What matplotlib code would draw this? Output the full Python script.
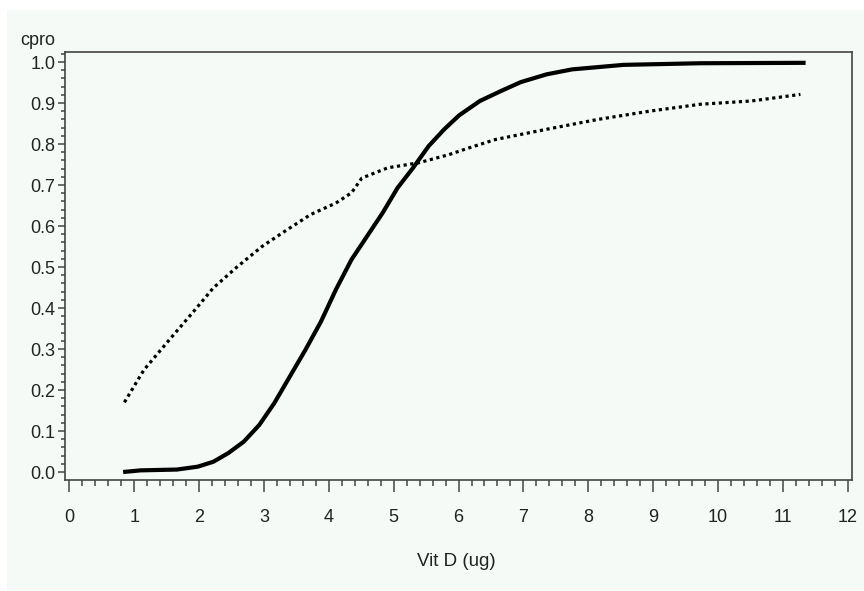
import numpy as np
import matplotlib
matplotlib.use('Agg')
import matplotlib.pyplot as plt
from matplotlib.patches import Rectangle
from matplotlib.ticker import MultipleLocator, FormatStrFormatter

# solid curve (fitted cdf)
fit_x = [0.83, 1.10, 1.66, 1.98, 2.22, 2.45, 2.69, 2.93, 3.16, 3.40, 3.64, 3.88,
         4.11, 4.35, 4.59, 4.83, 5.06, 5.30, 5.54, 5.78, 6.01, 6.33, 6.65, 6.96,
         7.36, 7.75, 8.54, 9.73, 11.35]
fit_y = [0.000, 0.004, 0.006, 0.013, 0.025, 0.046, 0.074, 0.115, 0.168, 0.233,
         0.298, 0.367, 0.445, 0.518, 0.575, 0.632, 0.693, 0.742, 0.795, 0.836,
         0.870, 0.905, 0.929, 0.951, 0.970, 0.982, 0.993, 0.997, 0.998]

# dotted curve (empirical cdf)
emp_x = [0.85, 1.15, 1.54, 1.94, 2.22, 2.57, 2.97, 3.32, 3.72, 4.11, 4.35, 4.51,
         4.91, 5.38, 5.85, 6.17, 6.57, 7.36, 8.15, 8.94, 9.73, 10.52, 11.27]
emp_y = [0.170, 0.249, 0.322, 0.396, 0.449, 0.498, 0.550, 0.587, 0.628, 0.656,
         0.681, 0.717, 0.742, 0.754, 0.774, 0.791, 0.811, 0.836, 0.860, 0.880,
         0.897, 0.905, 0.921]

x_ticks = list(range(0, 13))
y_ticks = [0.0, 0.1, 0.2, 0.3, 0.4, 0.5, 0.6, 0.7, 0.8, 0.9, 1.0]

bg = '#f5faf7'
ink = '#444444'
W, H = 864, 591

plt.rcParams['font.family'] = ['Liberation Sans', 'DejaVu Sans']
fig = plt.figure(figsize=(W / 100, H / 100), dpi=100, facecolor='white')
fig.patches.append(Rectangle((7 / W, 1 / H), 1 - 7 / W, 1 - 11 / H,
                             transform=fig.transFigure, facecolor=bg,
                             edgecolor='none', zorder=-10))

ax = fig.add_axes([65 / W, (H - 480) / H, (852 - 65) / W, (480 - 52) / H])
ax.set_facecolor(bg)

ax.plot(fit_x, fit_y, color='black', lw=3.0, solid_capstyle='butt')
ax.plot(emp_x, emp_y, color='black', lw=2.3, linestyle=(0, (1.0, 1.1)))

ax.set_xlim(-0.066, 12.065)
ax.set_ylim(-0.0195, 1.0244)
ax.set_xticks(x_ticks)
ax.set_yticks(y_ticks)
ax.xaxis.set_minor_locator(MultipleLocator(0.2))
ax.yaxis.set_minor_locator(MultipleLocator(0.02))
ax.yaxis.set_major_formatter(FormatStrFormatter('%.1f'))

for s in ax.spines.values():
    s.set_color(ink)
    s.set_linewidth(1.2)

ax.tick_params(axis='x', which='major', length=8.6, width=1.1, color=ink,
               labelsize=13, labelcolor='#222222', pad=12)
ax.tick_params(axis='x', which='minor', length=4.3, width=1.1, color=ink)
ax.tick_params(axis='y', which='major', length=5, width=1.1, color=ink,
               labelsize=13, labelcolor='#222222', pad=2)
ax.tick_params(axis='y', which='minor', length=2.6, width=1.1, color=ink)

fig.text(456 / W, 1 - 562 / H, 'Vit D (ug)', ha='center', va='center',
         fontsize=13.5, color='#222222')
fig.text(20 / W, 1 - 45 / H, 'cpro', ha='left', va='baseline',
         fontsize=13, color='#222222')

fig.savefig('out.png', dpi=100, facecolor='white')
